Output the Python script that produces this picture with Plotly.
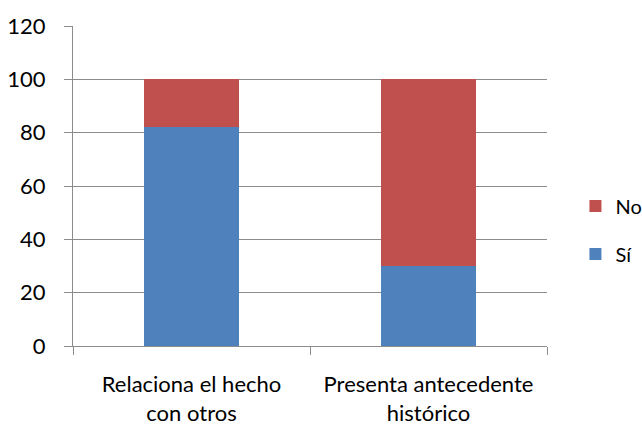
import plotly.graph_objects as go

categories = ["Relaciona el hecho<br>con otros", "Presenta antecedente<br>histórico"]
si_values = [82, 30]
no_values = [18, 70]
y_ticks = [0, 20, 40, 60, 80, 100, 120]

BLUE = "#4F81BD"
RED = "#C0504D"
GRID = "#8C8C8C"
FONT = "Lato"
SIZE = 22

fig = go.Figure()
fig.add_trace(go.Bar(x=categories, y=si_values, name="Sí", marker_color=BLUE,
                     marker_line_width=0, legendgroup="si", legendrank=2))
fig.add_trace(go.Bar(x=categories, y=no_values, name="No", marker_color=RED,
                     marker_line_width=0, legendgroup="no", legendrank=1))

fig.update_layout(
    width=642, height=427,
    margin=dict(l=73, r=95, t=26, b=81, autoexpand=False),
    paper_bgcolor="white", plot_bgcolor="white",
    barmode="stack", bargap=0.6,
    font=dict(family=FONT, size=SIZE, color="#000000"),
    showlegend=True,
    legend=dict(
        traceorder="grouped", x=1.06, xanchor="left",
        y=0.3625, yanchor="middle", tracegroupgap=19,
        font=dict(family=FONT, size=20), bgcolor="rgba(0,0,0,0)",
    ),
)
fig.update_xaxes(
    showline=True, linecolor=GRID, linewidth=1,
    ticks="outside", ticklen=8, tickcolor=GRID, tickson="boundaries",
    ticklabelstandoff=19,
    showgrid=False, tickfont=dict(family=FONT, size=SIZE),
)
fig.update_yaxes(
    range=[0, 120], tickvals=y_ticks,
    showline=True, linecolor=GRID, linewidth=1,
    ticks="outside", ticklen=8, tickcolor=GRID,
    ticklabelstandoff=14,
    showgrid=True, gridcolor=GRID, gridwidth=1,
    zeroline=False, tickfont=dict(family=FONT, size=SIZE),
)

fig.write_html("out.html")
